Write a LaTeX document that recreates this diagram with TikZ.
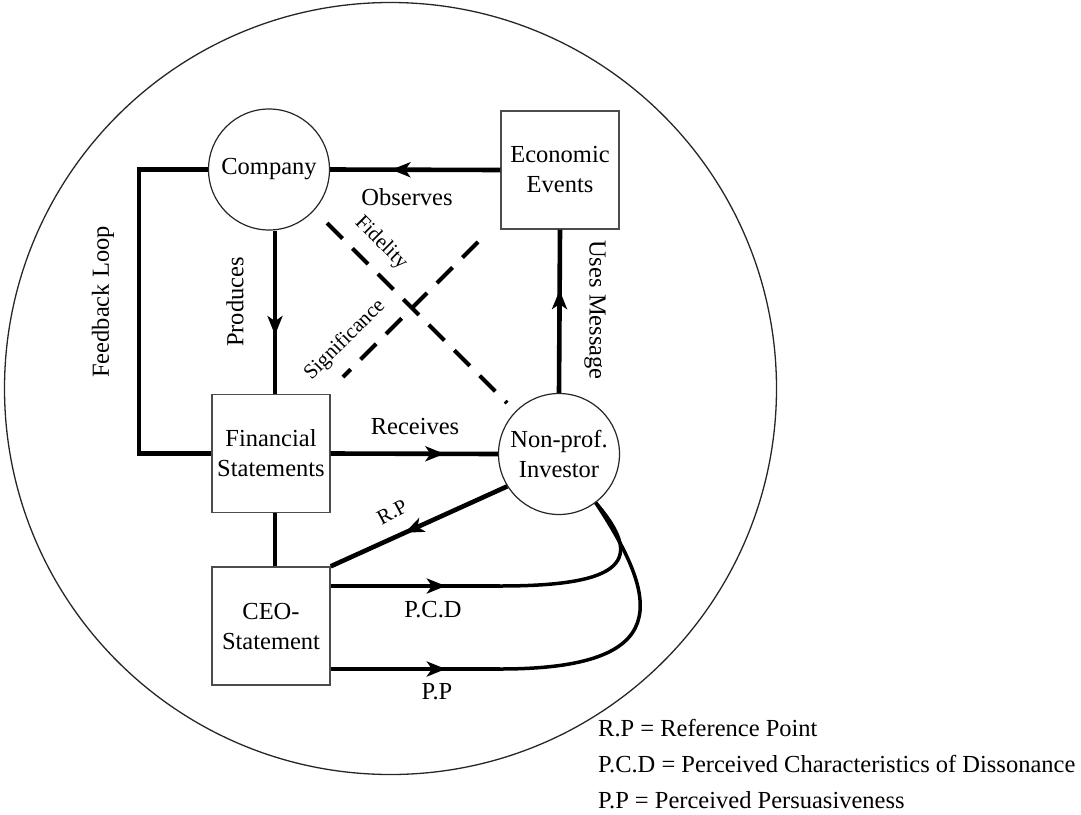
\documentclass[tikz,border=0pt]{standalone}
\usepackage{fontspec}
\setmainfont{Liberation Serif}
\usetikzlibrary{arrows.meta,decorations.markings}
\begin{document}
\begin{tikzpicture}[x=1pt,y=-1pt,
  every node/.style={font=\fontsize{24.5}{30}\selectfont},
  box/.style={draw=black!70, line width=1.4pt, fill=white, minimum width=118pt, minimum height=118pt, align=center, inner sep=0pt},
  circ/.style={draw=black!85, circle, line width=1.2pt, fill=white, minimum size=121pt, align=center, inner sep=0pt},
  conn/.style={line width=4.6pt},
  curveconn/.style={line width=3.5pt},
  midarr/.style={postaction={decorate}, decoration={markings, mark=at position #1 with {\arrow{Stealth[length=19pt,width=15pt,inset=5pt]}}}},
  dashline/.style={line width=4pt, dash pattern=on 22pt off 14pt},
  smalllbl/.style={font=\fontsize{21}{25}\selectfont},
  legend/.style={anchor=west, inner sep=0pt, font=\fontsize{24.5}{29}\selectfont}
]
\useasboundingbox (0,0) rectangle (1081,814);

\node[circle, draw=black!85, line width=1.3pt, minimum size=772pt, inner sep=0pt] (frame) at (390.5,388.5) {};

\node[circ] (company) at (269,169.5) {Company};
\node[box] (econ) at (560,170) {Economic\\Events};
\node[box] (fs) at (271,453.5) {Financial\\Statements};
\node[box] (ceo) at (271,626) {CEO-\\Statement};
\node[circ] (inv) at (559,454) {Non-prof.\\Investor};

\coordinate (fb) at (139,300);
\coordinate (pcd) at (500,586);
\coordinate (pp) at (500,669);
\coordinate (f1) at (327,223);
\coordinate (f2) at (507,403);
\coordinate (s1) at (478,242);
\coordinate (s2) at (343,377);

% connectors
\draw[conn] (company.west) -| (fb) |- (fs.west);
\draw[conn, midarr=0.64] (econ.west) -- (company.east);
\draw[conn, midarr=0.64] ([xshift=4pt]fs.north |- company.south) -- ([xshift=4pt]fs.north);
\draw[conn, midarr=0.63] (inv.north) -- (econ.south);
\draw[conn, midarr=0.68] (fs.east) -- (inv.west);
\draw[conn] ([xshift=4pt]fs.south) -- ([xshift=4pt]ceo.north);
\draw[conn, midarr=0.58] (inv.212) -- (ceo.north east);
\draw[conn, midarr=0.68] (ceo.east |- pcd) -- (pcd);
\draw[conn, midarr=0.68] (ceo.east |- pp) -- (pp);
\draw[curveconn] (pcd) .. controls (625,586) and (645,560) .. (inv.-53);
\draw[curveconn] (pp) .. controls (675,669) and (660,600) .. (inv.-53);

\draw[dashline] (f1) -- (f2);
\draw[dashline] (s1) -- (s2);

% labels
\node at (407,197) {Observes};
\node[rotate=90] at (235,302) {Produces};
\node[rotate=-90] at (595,310) {Uses Message};
\node[rotate=90] at (103,302) {Feedback Loop};
\node at (415,427) {Receives};
\node[rotate=28, smalllbl] at (392,512) {R.P};
\node at (433,610) {P.C.D};
\node at (437,692) {P.P};
\node[rotate=-45, smalllbl] at (381,243) {Fidelity};
\node[rotate=45, smalllbl] at (345,340) {Significance};

% legend
\node[legend] (l1) at (598,728) {R.P = Reference Point};
\node[legend] (l2) at (598,764) {P.C.D = Perceived Characteristics of Dissonance};
\node[legend] (l3) at (598,800) {P.P = Perceived Persuasiveness};
\end{tikzpicture}
\end{document}
